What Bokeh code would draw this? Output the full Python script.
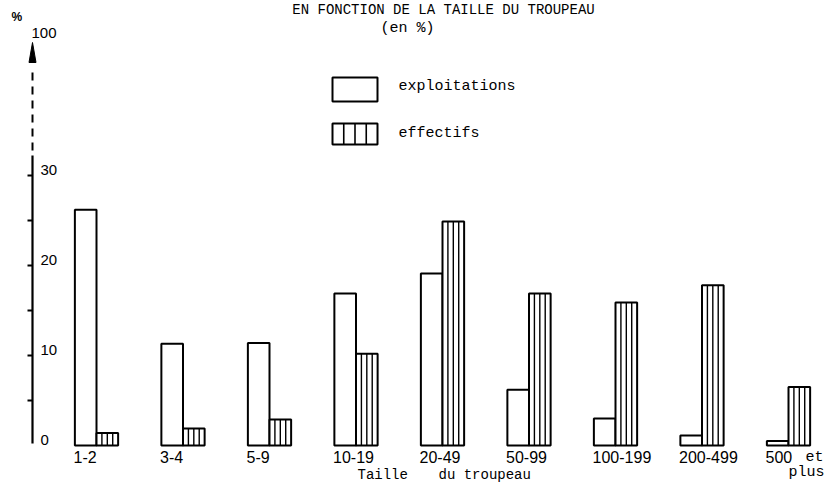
from bokeh.plotting import figure
from bokeh.models import ColumnDataSource, Range1d
from bokeh.core.properties import value
from bokeh.embed import file_html
from bokeh.resources import INLINE

# ---------------- data ----------------
categories = ["1-2", "3-4", "5-9", "10-19", "20-49", "50-99", "100-199", "200-499", "500"]
exploitations = [26.2, 11.3, 11.4, 16.9, 19.1, 6.2, 3.0, 1.1, 0.5]
effectifs = [1.4, 1.9, 2.9, 10.2, 24.9, 16.9, 15.9, 17.8, 6.5]
y_tick_labels = ["0", "10", "20", "30"]
y_tick_values = [0, 10, 20, 30]
y_minor_ticks = [5, 10, 15, 20, 25, 30]
top_label = "100"

# ---------------- layout helpers (picture pixel -> data units) ----------------
W, H = 831, 485
X0, DX = 96.0, 86.5      # x of category 0 centre, px per category
Y0, DY = 445.0, 9.0      # y of value 0, px per percent


def dx(X):
    return (X - X0) / DX


def dy(Y):
    return (Y0 - Y) / DY


SANS = value("Liberation Sans")
MONO = value("Liberation Mono")
BW = 0.25  # bar width in category units

p = figure(width=W, height=H, output_backend="svg", toolbar_location=None,
           x_range=Range1d(dx(0), dx(W)), y_range=Range1d(dy(H), dy(0)),
           x_axis_type=None, y_axis_type=None, min_border=0,
           outline_line_color=None, background_fill_color="white")

n = len(categories)
idx = list(range(n))
src = ColumnDataSource(dict(
    x_exp=[i - BW / 2 for i in idx],
    x_eff=[i + BW / 2 for i in idx],
    exp=exploitations,
    eff=effectifs,
))

# bars
p.vbar(x="x_exp", top="exp", bottom=0, width=BW, source=src,
       fill_color="white", line_color="black", line_width=2)
p.vbar(x="x_eff", top="eff", bottom=0, width=BW, source=src,
       fill_color="white", line_color="black", line_width=2)

# vertical stripes inside effectifs bars (4 cells)
sx, sy0, sy1 = [], [], []
for i, v in zip(idx, effectifs):
    for k in (1, 2, 3):
        sx.append(i + BW * k / 4)
        sy0.append(0)
        sy1.append(v)
p.segment(x0=sx, y0=sy0, x1=sx, y1=sy1, line_color="black", line_width=1.4)

# ---------------- y axis (hand-drawn style) ----------------
ax = dx(32)
p.segment(x0=[ax], y0=[dy(443)], x1=[ax], y1=[dy(155)], line_color="black", line_width=2.2)
p.segment(x0=[ax], y0=[dy(150)], x1=[ax], y1=[dy(66)], line_color="black",
          line_width=2, line_dash="8 6")
# arrow head
p.patch(x=[dx(28.5), ax, dx(35.5)], y=[dy(62), dy(42), dy(62)],
        fill_color="black", line_color="black", line_width=1)
# ticks
p.segment(x0=[dx(27)] * len(y_minor_ticks), y0=y_minor_ticks,
          x1=[ax] * len(y_minor_ticks), y1=y_minor_ticks,
          line_color="black", line_width=2)
p.text(x=[dx(40)] * len(y_tick_values), y=y_tick_values, text=y_tick_labels,
       text_font=SANS, text_font_size="15px", text_align="left",
       text_baseline="middle", y_offset=-6, text_color="black")
p.text(x=[dx(31)], y=[dy(32)], text=[top_label], text_font=SANS,
       text_font_size="15px", text_align="left", text_baseline="middle")
p.text(x=[dx(11)], y=[dy(16)], text=["%"], text_font=SANS,
       text_font_size="12px", text_font_style="bold", text_align="left",
       text_baseline="middle")

# ---------------- x labels ----------------
p.text(x=[i - 0.265 for i in idx], y=[dy(456)] * n, text=categories,
       text_font=SANS, text_font_size="16px", text_align="left",
       text_baseline="middle")
p.text(x=[dx(805)], y=[dy(457)], text=["et"], text_font=MONO,
       text_font_size="15px", text_align="left", text_baseline="middle")
p.text(x=[dx(788)], y=[dy(472)], text=["plus"], text_font=MONO,
       text_font_size="15px", text_align="left", text_baseline="middle")

# axis title
p.text(x=[dx(357)], y=[dy(474)], text=["Taille"], text_font=MONO,
       text_font_size="14px", text_align="left", text_baseline="middle")
p.text(x=[dx(438)], y=[dy(474)], text=["du troupeau"], text_font=MONO,
       text_font_size="14px", text_align="left", text_baseline="middle")

# ---------------- titles ----------------
p.text(x=[dx(443)], y=[dy(1)], text=["EN FONCTION DE LA TAILLE DU TROUPEAU"],
       text_font=MONO, text_font_size="14px", text_align="center",
       text_baseline="top")
p.text(x=[dx(380)], y=[dy(28)], text=["(en %)"], text_font=MONO,
       text_font_size="15px", text_align="left", text_baseline="middle")

# ---------------- legend ----------------
p.quad(left=[dx(332)], right=[dx(377)], top=[dy(77)], bottom=[dy(101)],
       fill_color="white", line_color="black", line_width=2)
p.quad(left=[dx(332)], right=[dx(377)], top=[dy(123)], bottom=[dy(144)],
       fill_color="white", line_color="black", line_width=2)
lx = [dx(332 + 45 * k / 4) for k in (1, 2, 3)]
p.segment(x0=lx, y0=[dy(123)] * 3, x1=lx, y1=[dy(144)] * 3,
          line_color="black", line_width=1.6)
p.text(x=[dx(398), dx(398)], y=[dy(86), dy(133)], text=["exploitations", "effectifs"],
       text_font=MONO, text_font_size="15px", text_align="left",
       text_baseline="middle")

open("out.html", "w").write(file_html(p, INLINE))
